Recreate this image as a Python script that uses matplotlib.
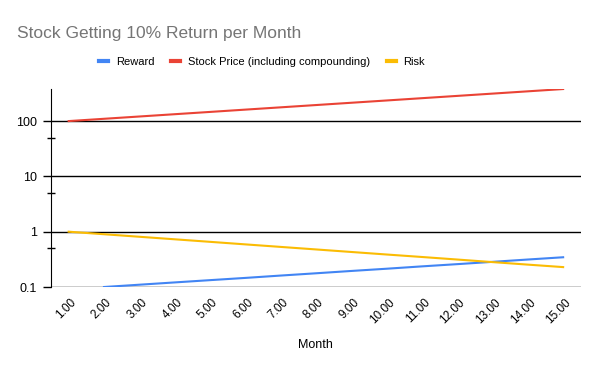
import numpy as np
import matplotlib.pyplot as plt
from matplotlib.ticker import FixedLocator, NullFormatter
from matplotlib.transforms import ScaledTranslation

plt.rcParams["font.family"] = ["Liberation Sans", "DejaVu Sans"]

months = [1, 2, 3, 4, 5, 6, 7, 8, 9, 10, 11, 12, 13, 14, 15]
reward = [0, 0.1, 0.11, 0.121, 0.133, 0.146, 0.161, 0.177, 0.195, 0.214,
          0.236, 0.259, 0.285, 0.314, 0.345]
stock_price = [100, 110, 121, 133.1, 146.4, 161.1, 177.2, 194.9, 214.4, 235.8,
               259.4, 285.3, 313.8, 345.2, 379.7]
risk = [1, 0.9, 0.81, 0.729, 0.656, 0.59, 0.531, 0.478, 0.43, 0.387,
        0.349, 0.314, 0.282, 0.254, 0.229]
month_labels = ["%.2f" % m for m in months]

fig = plt.figure(figsize=(6, 3.71), dpi=100)
ax = fig.add_axes([0.085, 0.2264, 0.883, 0.534])

ax.set_yscale("log", nonpositive="mask")
ax.plot(months, reward, color="#4285F4", lw=1.5, label="Reward")
ax.plot(months, stock_price, color="#EA4335", lw=1.5,
        label="Stock Price (including compounding)")
ax.plot(months, risk, color="#FBBC04", lw=1.5, label="Risk")

ax.set_xlim(0.5, 15.5)
ax.set_ylim(0.1, 382)

# major gridlines at decades, small minor marks at the 5s
ax.yaxis.set_major_locator(FixedLocator([0.1, 1, 10, 100]))
ax.set_yticklabels(["0.1", "1", "10", "100"])
ax.yaxis.set_minor_locator(FixedLocator([0.5, 5, 50]))
ax.yaxis.set_minor_formatter(NullFormatter())
ax.grid(axis="y", which="major", color="black", lw=1)
ax.tick_params(axis="y", which="major", length=6, width=1, color="black",
               labelsize=9, pad=4)
ax.tick_params(axis="y", which="minor", length=6, width=1, direction="inout")

ax.set_xticks(months)
ax.set_xticklabels(month_labels, rotation=45, ha="right", va="center",
                   rotation_mode="anchor")
ax.tick_params(axis="x", length=0, labelsize=8.5, pad=10)
shift = ScaledTranslation(6 / 100, 0, fig.dpi_scale_trans)
for lbl in ax.get_xticklabels():
    lbl.set_transform(lbl.get_transform() + shift)
ax.set_xlabel("Month", fontsize=9, labelpad=9)

for side in ["top", "right", "bottom"]:
    ax.spines[side].set_visible(False)
ax.spines["left"].set_color("black")

fig.text(0.028, 0.91, "Stock Getting 10% Return per Month", fontsize=12.5,
         color="#757575", va="center")
leg = fig.legend(loc="center", bbox_to_anchor=(0.437, 0.833), ncol=3,
                 frameon=False, fontsize=8, handlelength=0.8,
                 handletextpad=0.7, columnspacing=1.5)
for line in leg.get_lines():
    line.set_linewidth(3)

fig.savefig("out.png", dpi=100)
